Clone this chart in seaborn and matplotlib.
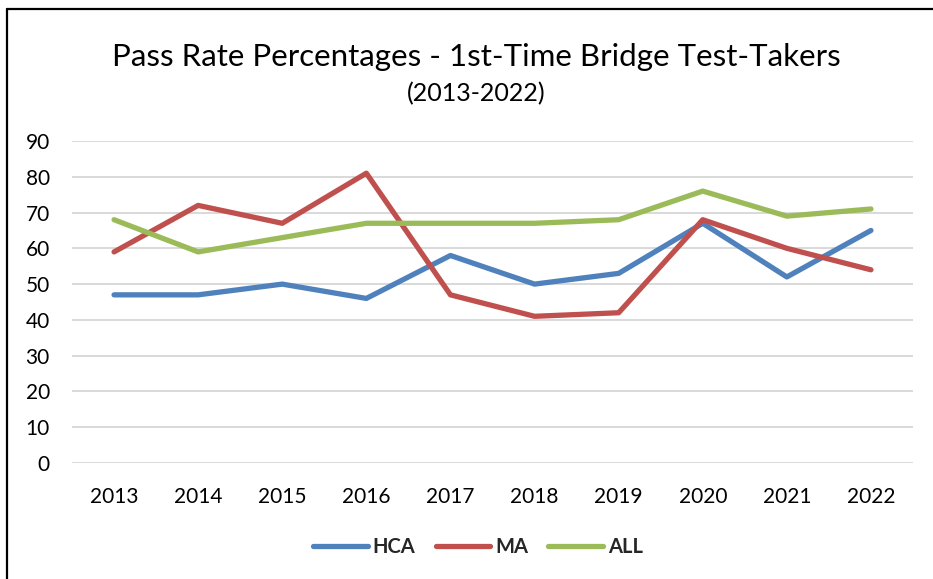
import matplotlib
matplotlib.use("Agg")
import matplotlib.pyplot as plt
import seaborn as sns
import pandas as pd
from matplotlib.lines import Line2D

years = ["2013", "2014", "2015", "2016", "2017", "2018", "2019", "2020", "2021", "2022"]
hca = [47, 47, 50, 46, 58, 50, 53, 67, 52, 65]
ma = [59, 72, 67, 81, 47, 41, 42, 68, 60, 54]
all_ = [68, 59, 63, 67, 67, 67, 68, 76, 69, 71]
series_names = ["HCA", "MA", "ALL"]
colors = ["#4F81BD", "#C0504D", "#9BBB59"]
yticks = [0, 10, 20, 30, 40, 50, 60, 70, 80, 90]

df = pd.DataFrame({
    "Year": years * 3,
    "Rate": hca + ma + all_,
    "Series": [s for s in series_names for _ in years],
})

sns.set_theme(style="white")
plt.rcParams["font.family"] = ["Lato", "DejaVu Sans"]

fig = plt.figure(figsize=(9.33, 5.79), dpi=100)
ax = fig.add_axes([72 / 933, 1 - 463 / 579, (913 - 72) / 933, (463 - 141) / 579])

sns.lineplot(data=df, x="Year", y="Rate", hue="Series", palette=colors,
             linewidth=3.8, ax=ax, legend=False, sort=False)
for ln in ax.get_lines():
    ln.set_solid_capstyle("round")
    ln.set_solid_joinstyle("round")

ax.set_xlim(-0.5, len(years) - 0.5)
ax.set_ylim(0, 90)
ax.set_yticks(yticks)
ax.set_xlabel("")
ax.set_ylabel("")
ax.grid(axis="y", color="#d9d9d9", linewidth=1.4)
ax.set_axisbelow(True)
for s in ax.spines.values():
    s.set_visible(False)
ax.tick_params(axis="both", length=0, labelsize=15, colors="#000000")
ax.tick_params(axis="y", pad=16)
ax.tick_params(axis="x", pad=17)

fig.text(476 / 933, 1 - 57 / 579, "Pass Rate Percentages - 1st-Time Bridge Test-Takers",
         ha="center", va="center", fontsize=22.5, color="#000000")
fig.text(476 / 933, 1 - 94 / 579, "(2013-2022)", ha="center", va="center",
         fontsize=18, color="#000000")

handles = [Line2D([0], [0], color=c, linewidth=3.8, solid_capstyle="round") for c in colors]
fig.legend(handles, series_names, loc="center", bbox_to_anchor=(478 / 933, 1 - 547 / 579),
           ncol=3, frameon=False, prop={"weight": "bold", "size": 14.5},
           handlelength=2.7, handletextpad=0.25, columnspacing=1.0)

# chart border (left and top visible)
fig.add_artist(Line2D([7 / 933, 7 / 933], [0, 1 - 9 / 579], transform=fig.transFigure,
                      color="black", linewidth=1.6))
fig.add_artist(Line2D([7 / 933, 1], [1 - 9 / 579, 1 - 9 / 579], transform=fig.transFigure,
                      color="black", linewidth=1.6))

fig.savefig("out.png", dpi=100)
